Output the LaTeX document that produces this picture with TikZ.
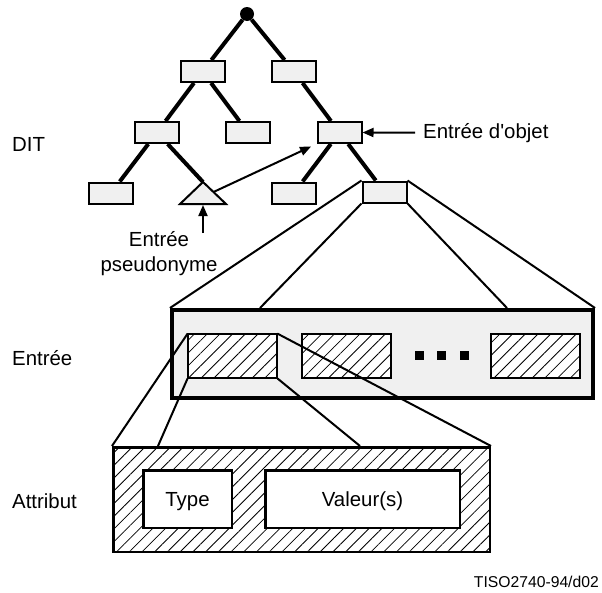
\documentclass[tikz,border=0pt]{standalone}
\usepackage{fontspec}
\setmainfont{Liberation Sans}
\usetikzlibrary{arrows.meta,patterns.meta}
\definecolor{grisclaro}{RGB}{240,240,240}
\begin{document}
\begin{tikzpicture}[x=1pt,y=-1pt,
        >={Triangle[length=11pt,width=9pt]},
        every node/.style={font=\fontsize{20.4pt}{25pt}\selectfont},
        caja/.style={draw,line width=2pt,fill=grisclaro,minimum width=44pt,minimum height=21pt,inner sep=0pt},
        rayado/.style={draw,line width=2pt,inner sep=0pt,preaction={fill=white},
          pattern={Lines[angle=45,distance=9pt,line width=0.8pt]}},
        arista/.style={line width=4pt},
        fina/.style={line width=2pt}]
        \useasboundingbox (0,0) rectangle (602,592);
        % arbol DIT
        \node[circle,fill,inner sep=0pt,minimum size=14pt] (raiz) at (247,14) {};
        \node[caja] (n1) at (202.5,71.5) {};
        \node[caja] (n2) at (294,71.5) {};
        \node[caja] (a) at (157,132.5) {};
        \node[caja] (b) at (248,132.5) {};
        \node[caja] (c) at (339.5,132.5) {};
        \node[caja] (d) at (111,193) {};
        \node[caja] (e) at (294,193) {};
        \node[caja] (f) at (384.5,192) {};
        \coordinate (pv) at (203,182);
        \coordinate (pb) at (203,204);
        \coordinate (pd) at (213.5,192);
        \foreach \i/\j in {raiz/n1,raiz/n2,n1/a,n1/b,n2/c,a/d,a/pv,c/e,c/f}
        \draw[arista] (\i) -- (\j);
        % triangulo seudonimo
        \draw[fina,fill=grisclaro] (pv) -- (180,204) -- (226,204) -- cycle;
        % etiquetas
        \node[anchor=base west,inner sep=0pt] (dit) at (12,151) {DIT};
        \node[anchor=base west,inner sep=8pt] (objet) at (415,138) {Entr\'ee d\textquotesingle objet};
        \draw[fina,->] (objet.west) -- (c.east);
        \draw[fina,->,shorten >=6pt] (pd) -- (c.south west);
        \node[align=center,inner sep=0pt] (pseudo) at (159,254) {Entr\'ee\\pseudonyme};
        \coordinate (pie) at (203,233);
        \draw[fina,->,shorten >=1pt] (pie) -- (pb);
        % entrada
        \node[draw,line width=4pt,fill=grisclaro,minimum width=421pt,minimum height=88pt,inner sep=0pt] (entree) at (382.5,354) {};
        \node[anchor=base west,inner sep=0pt] (lentree) at (12,365) {Entr\'ee};
        \coordinate (ei) at (260,308);
        \coordinate (ed) at (507,308);
        \draw[fina] (f.north west) -- (entree.north west);
        \draw[fina] (f.south west) -- (ei);
        \draw[fina] (f.south east) -- (ed);
        \draw[fina] (f.north east) -- (entree.north east);
        \node[rayado,minimum width=89pt,minimum height=44pt] (h1) at (232.5,356) {};
        \node[rayado,minimum width=89pt,minimum height=44pt] (h2) at (346.5,356) {};
        \node[rayado,minimum width=89pt,minimum height=44pt] (h3) at (535.5,356) {};
        \foreach \x in {419,441.5,464}
        \fill (\x-4.5,351) rectangle ++(9,9);
        % atributo
        \node[rayado,line width=2.5pt,minimum width=376.5pt,minimum height=104.5pt] (attr) at (301.5,499.5) {};
        \node[draw,line width=2.5pt,fill=white,minimum width=88.5pt,minimum height=57.5pt,inner sep=0pt,text depth=0pt] (type) at (187.5,499) {Type};
        \node[draw,line width=2.5pt,fill=white,minimum width=194.5pt,minimum height=57.5pt,inner sep=0pt,text depth=0pt] (valeur) at (362.5,499) {Valeur(s)};
        \node[anchor=base west,inner sep=0pt] (lattr) at (12,508) {Attribut};
        \coordinate (ai) at (158,446);
        \coordinate (ad) at (360,446);
        \draw[fina] (h1.north west) -- (attr.north west);
        \draw[fina] (h1.south west) -- (ai);
        \draw[fina] (h1.south east) -- (ad);
        \draw[fina] (h1.north east) -- (attr.north east);
        \node[anchor=base east,inner sep=0pt,font=\fontsize{15.7pt}{19pt}\selectfont] (ref) at (599,587) {TISO2740-94/d02};
\end{tikzpicture}
\end{document}
